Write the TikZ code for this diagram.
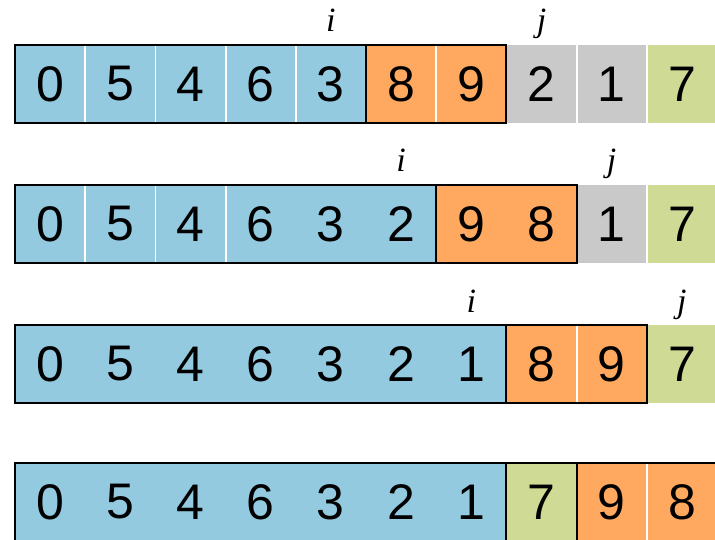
\documentclass[tikz,border=0pt]{standalone}
\usepackage{fontspec}
\setmainfont{Liberation Sans}
\newfontfamily\lblfont{Liberation Serif}
\definecolor{cblue}{RGB}{147,202,224}
\definecolor{corange}{RGB}{255,168,96}
\definecolor{cgray}{RGB}{201,201,201}
\definecolor{cgreen}{RGB}{207,219,149}
\begin{document}
\begin{tikzpicture}[x=1pt,y=-1pt,
  cell/.style={anchor=north west,minimum width=70.2pt,minimum height=78pt,inner sep=0pt,outer sep=0pt,font=\fontsize{50}{60}\selectfont},
  sep/.style={white,line width=1.8pt},
  outline/.style={black,line width=2pt},
  lbl/.style={anchor=base,inner sep=0pt,font=\fontsize{34}{40}\selectfont\lblfont\itshape}]
\useasboundingbox (0,0) rectangle (715,540);
% Row 1
\foreach \v/\c [count=\k from 0] in {0/cblue,5/cblue,4/cblue,6/cblue,3/cblue,8/corange,9/corange,2/cgray,1/cgray,7/cgreen}
  \node[cell,fill=\c] (r1c\k) at ({15+70.2*\k},45) {\v};
\foreach \k in {0,1,2,3,5,7,8} \draw[sep] (r1c\k.north east) -- (r1c\k.south east);
\draw[outline] (r1c0.north west) rectangle (r1c4.south east);
\draw[outline] (r1c5.north west) rectangle (r1c6.south east);
\path (r1c4.north) ++(0,-13) node[lbl] (i1) {i};
\path (r1c7.north) ++(0,-13) node[lbl] (j1) {j};
% Row 2
\foreach \v/\c [count=\k from 0] in {0/cblue,5/cblue,4/cblue,6/cblue,3/cblue,2/cblue,9/corange,8/corange,1/cgray,7/cgreen}
  \node[cell,fill=\c] (r2c\k) at ({15+70.2*\k},185) {\v};
\foreach \k in {0,1,2,8} \draw[sep] (r2c\k.north east) -- (r2c\k.south east);
\draw[outline] (r2c0.north west) rectangle (r2c5.south east);
\draw[outline] (r2c6.north west) rectangle (r2c7.south east);
\path (r2c5.north) ++(0,-13) node[lbl] (i2) {i};
\path (r2c8.north) ++(0,-13) node[lbl] (j2) {j};
% Row 3
\foreach \v/\c [count=\k from 0] in {0/cblue,5/cblue,4/cblue,6/cblue,3/cblue,2/cblue,1/cblue,8/corange,9/corange,7/cgreen}
  \node[cell,fill=\c] (r3c\k) at ({15+70.2*\k},325) {\v};
\foreach \k in {7} \draw[sep] (r3c\k.north east) -- (r3c\k.south east);
\draw[outline] (r3c0.north west) rectangle (r3c6.south east);
\draw[outline] (r3c7.north west) rectangle (r3c8.south east);
\path (r3c6.north) ++(0,-13) node[lbl] (i3) {i};
\path (r3c9.north) ++(0,-13) node[lbl] (j3) {j};
% Row 4
\foreach \v/\c [count=\k from 0] in {0/cblue,5/cblue,4/cblue,6/cblue,3/cblue,2/cblue,1/cblue,7/cgreen,9/corange,8/corange}
  \node[cell,fill=\c] (r4c\k) at ({15+70.2*\k},463) {\v};
\foreach \k in {8} \draw[sep] (r4c\k.north east) -- (r4c\k.south east);
\draw[outline] (r4c0.north west) rectangle (r4c6.south east);
\draw[outline] (r4c7.north west) rectangle (r4c7.south east);
\draw[outline] (r4c8.north west) rectangle (r4c9.south east);
\end{tikzpicture}
\end{document}
